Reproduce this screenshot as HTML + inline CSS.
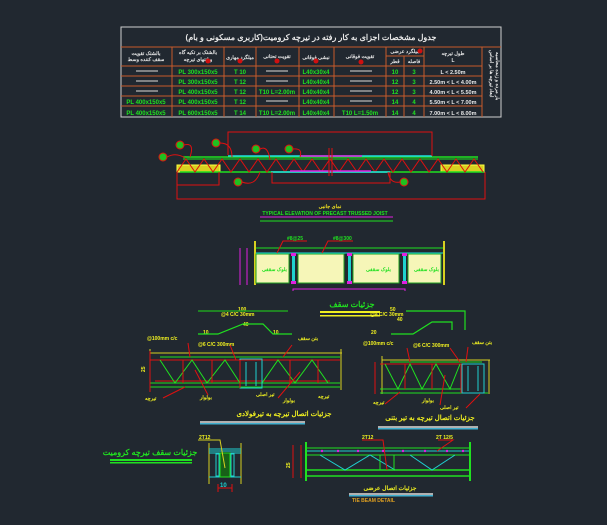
<!DOCTYPE html>
<html><head><meta charset="utf-8"><style>
html,body{margin:0;padding:0;background:#212830;width:607px;height:525px;overflow:hidden}
svg{display:block}
text{font-family:"Liberation Sans","Noto Sans CJK SC",sans-serif;font-weight:bold}
</style></head><body>
<svg width="607" height="525" viewBox="0 0 607 525" xmlns="http://www.w3.org/2000/svg">
<!-- TABLE -->
<g stroke="#c85a2a" stroke-width="1" fill="none">
<rect x="121" y="27" width="380" height="90" stroke="#d0d0d0"/>
<line x1="121" y1="47" x2="501" y2="47"/>
<line x1="121" y1="66" x2="482" y2="66"/>
<line x1="121" y1="76" x2="482" y2="76"/><line x1="121" y1="86" x2="482" y2="86"/>
<line x1="121" y1="96" x2="482" y2="96"/><line x1="121" y1="106" x2="482" y2="106"/>
<line x1="172" y1="47" x2="172" y2="117"/><line x1="224" y1="47" x2="224" y2="117"/>
<line x1="256" y1="47" x2="256" y2="117"/><line x1="299" y1="47" x2="299" y2="117"/>
<line x1="334" y1="47" x2="334" y2="117"/><line x1="386" y1="47" x2="386" y2="117"/>
<line x1="404" y1="56" x2="404" y2="117"/><line x1="386" y1="56" x2="424" y2="56"/>
<line x1="424" y1="47" x2="424" y2="117"/><line x1="482" y1="47" x2="482" y2="117"/>
</g>
<text x="311" y="40" font-size="8" fill="#e8e8e8" text-anchor="middle">جدول مشخصات اجزای به کار رفته در تیرچه کرومیت(کاربری مسکونی و بام)</text>
<g font-size="5" fill="#e8e8e8" text-anchor="middle">
<text x="146" y="55">بالشتک تقویت</text><text x="146" y="61">سقف کننده وسط</text>
<text x="198" y="54">بالشتک بر تکیه گاه</text><text x="198" y="61">و انتهای تیرچه</text>
<text x="240" y="59">میلگرد مهاری</text><text x="277" y="58">تقویت تحتانی</text>
<text x="316" y="59">نبشی فوقانی</text><text x="360" y="58">تقویت فوقانی</text>
<text x="405" y="53">میلگرد عرضی</text><text x="395" y="63">قطر</text><text x="414" y="63">فاصله</text>
<text x="453" y="55">طول تیرچه</text><text x="453" y="62">L</text>
</g>
<g fill="#d01010"><circle cx="208" cy="61" r="2.5"/><circle cx="240" cy="61" r="2.5"/><circle cx="277" cy="61" r="2.5"/><circle cx="316" cy="61" r="2.5"/><circle cx="361" cy="62" r="2.5"/><circle cx="420" cy="51" r="2.5"/></g>
<g font-size="6" fill="#20e020" text-anchor="middle">
<text x="198" y="74">PL 300x150x5</text><text x="198" y="84">PL 300x150x5</text><text x="198" y="94">PL 400x150x5</text><text x="198" y="104">PL 400x150x5</text><text x="198" y="115">PL 600x150x5</text>
<text x="146" y="104">PL 400x150x5</text><text x="146" y="115">PL 400x150x5</text>
<text x="240" y="74">T 10</text><text x="240" y="84">T 12</text><text x="240" y="94">T 12</text><text x="240" y="104">T 12</text><text x="240" y="115">T 14</text>
<text x="277" y="94">T10 L=2.00m</text><text x="277" y="115">T10 L=2.00m</text><text x="360" y="115">T10 L=1.50m</text>
<text x="316" y="74">L40x30x4</text><text x="316" y="84">L40x40x4</text><text x="316" y="94">L40x40x4</text><text x="316" y="104">L40x40x4</text><text x="316" y="115">L40x40x4</text>
<text x="395" y="74">10</text><text x="395" y="84">12</text><text x="395" y="94">12</text><text x="395" y="104">14</text><text x="395" y="115">14</text>
<text x="414" y="74">3</text><text x="414" y="84">3</text><text x="414" y="94">3</text><text x="414" y="104">4</text><text x="414" y="115">4</text>
</g>
<g font-size="5.5" fill="#e8e8e8" text-anchor="middle">
<text x="453" y="74">L &lt; 2.50m</text><text x="453" y="84">2.50m &lt; L &lt; 4.00m</text><text x="453" y="94">4.00m &lt; L &lt; 5.50m</text><text x="453" y="104">5.50m &lt; L &lt; 7.00m</text><text x="453" y="115">7.00m &lt; L &lt; 8.00m</text>
</g>
<g stroke="#a0a0a0" stroke-width="1.5">
<line x1="136" y1="71" x2="158" y2="71"/><line x1="136" y1="81" x2="158" y2="81"/><line x1="136" y1="91" x2="158" y2="91"/>
<line x1="266" y1="71" x2="288" y2="71"/><line x1="266" y1="81" x2="288" y2="81"/><line x1="266" y1="101" x2="288" y2="101"/>
<line x1="350" y1="71" x2="372" y2="71"/><line x1="350" y1="81" x2="372" y2="81"/><line x1="350" y1="91" x2="372" y2="91"/><line x1="350" y1="101" x2="372" y2="101"/>
</g>
<text x="0" y="0" font-size="5" fill="#e8e8e8" transform="translate(490,50) rotate(90)">ابعاد تیرچه ها بر اساس</text>
<text x="0" y="0" font-size="5" fill="#e8e8e8" transform="translate(496,52) rotate(90)">بار مرده و زنده محاسبه</text>

<!-- ELEVATION -->
<g fill="none" stroke-width="1">
<rect x="177" y="165" width="43" height="7" fill="#d8d020" stroke="#ffff40"/>
<rect x="441" y="165" width="43" height="7" fill="#d8d020" stroke="#ffff40"/>
<line x1="183" y1="157" x2="478" y2="157" stroke="#20e020" stroke-width="1.5"/>
<line x1="183" y1="159" x2="478" y2="159" stroke="#20e020"/>
<line x1="180" y1="172" x2="484" y2="172" stroke="#20e020" stroke-width="1.5"/>
<polyline stroke="#e01010" points="177,172 186,159 195,172 204,159 213,172 222,159 231,172 240,159 249,172 258,159 267,172 276,159 285,172 294,159 303,172 312,159 321,172 330,159 339,172 348,159 357,172 366,159 375,172 384,159 393,172 402,159 411,172 420,159 429,172 438,159 447,172 456,159 465,172 474,159 483,172"/>
<line x1="228" y1="156" x2="432" y2="156" stroke="#20e0e0" stroke-width="1.5"/>
<line x1="300" y1="156" x2="362" y2="156" stroke="#e020e0" stroke-width="1.5"/>
<line x1="271" y1="172" x2="390" y2="172" stroke="#20e0e0" stroke-width="1.5"/>
<line x1="290" y1="171" x2="371" y2="171" stroke="#e020e0" stroke-width="1.5"/>
<line x1="329" y1="148" x2="329" y2="176" stroke="#e01010"/><line x1="332" y1="148" x2="332" y2="176" stroke="#e01010"/>
<g stroke="#e01010">
<polyline points="228,155 228,132 432,132 432,156"/>
<polyline points="177,172 177,199 485,199 485,172"/>
<polyline points="177,185 219,185 219,172"/>
<polyline points="272,172 272,183 390,183 390,172"/>
<path d="M167,157 Q176,152 185,158 M184,145 Q195,142 190,157 M220,143 Q232,143 232,157 M260,149 Q268,145 270,160 M293,149 Q303,148 300,157 M242,182 Q255,187 260,172 M400,182 Q390,184 388,172"/>
</g>
<g stroke="#e01010" fill="#20c020"><circle cx="163" cy="157" r="4"/><circle cx="180" cy="145" r="4"/><circle cx="216" cy="143" r="4"/><circle cx="256" cy="149" r="4"/><circle cx="289" cy="149" r="4"/><circle cx="238" cy="182" r="4"/><circle cx="404" cy="182" r="4"/></g>
</g>
<text x="330" y="208" font-size="5" fill="#f0e020" text-anchor="middle">نمای جانبی</text>
<text x="325" y="215" font-size="5" fill="#20e020" text-anchor="middle">TYPICAL ELEVATION OF PRECAST TRUSSED JOIST</text>
<line x1="260" y1="217" x2="393" y2="217" stroke="#e020e0"/><line x1="260" y1="221" x2="393" y2="221" stroke="#20e020"/>

<!-- SECTION -->
<g stroke-width="1">
<line x1="255" y1="241" x2="255" y2="285" stroke="#d8d020" stroke-width="2"/>
<line x1="444" y1="241" x2="444" y2="285" stroke="#d8d020" stroke-width="2"/>
<line x1="256" y1="248" x2="443" y2="248" stroke="#20e020"/>
<line x1="256" y1="253" x2="443" y2="253" stroke="#20e0e0"/>
<g fill="#f6f6b8" stroke="#20a020"><rect x="256" y="254" width="33" height="29"/><rect x="298" y="254" width="46" height="29"/><rect x="353" y="254" width="46" height="29"/><rect x="408" y="254" width="33" height="29"/></g>
<g fill="#20d0d0"><rect x="292" y="254" width="3" height="29"/><rect x="348" y="254" width="3" height="29"/><rect x="403" y="254" width="3" height="29"/></g>
<g fill="#e020e0"><rect x="291" y="253" width="5" height="3"/><rect x="347" y="253" width="5" height="3"/><rect x="402" y="253" width="5" height="3"/><rect x="291" y="281" width="5" height="3"/><rect x="347" y="281" width="5" height="3"/><rect x="402" y="281" width="5" height="3"/></g>
<polyline points="293,291 293,289 405,289 405,291" fill="none" stroke="#e020e0"/>
<line x1="240" y1="248" x2="240" y2="285" stroke="#e020e0"/><line x1="247" y1="248" x2="247" y2="285" stroke="#e020e0"/>
<polyline points="277,253 283,241 307,241" fill="none" stroke="#e01010"/>
<polyline points="322,253 328,241 353,241" fill="none" stroke="#e01010"/>
</g>
<g font-size="5" fill="#20e020"><text x="287" y="240">#8@25</text><text x="333" y="240">#8@300</text>
<text x="262" y="271">بلوک سقفی</text><text x="308" y="271"></text><text x="366" y="271">بلوک سقفی</text><text x="414" y="271">بلوک سقفی</text></g>
<text x="352" y="307" font-size="8" fill="#20e020" text-anchor="middle">جزئیات سقف</text>
<rect x="320" y="311" width="60" height="2" fill="#f0f020"/><rect x="320" y="315" width="60" height="1.5" fill="#f0f020"/>

<!-- DETAIL 1 -->
<g font-size="5" fill="#f0f020">
<text x="238" y="311">100</text><text x="221" y="316">@4 C/C 30mm</text><text x="243" y="326">40</text><text x="203" y="334">10</text><text x="273" y="334">10</text>
<text x="147" y="340">@100mm c/c</text><text x="198" y="346">@6 C/C 300mm</text><text x="298" y="340">بتن سقف</text>
<text x="145" y="400">تیرچه</text><text x="200" y="399">بولوار</text><text x="256" y="396">تیر اصلی</text><text x="283" y="402">بولوار</text><text x="318" y="398">تیرچه</text>
<text x="390" y="311">50</text><text x="370" y="316">@4 C/C 30mm</text><text x="397" y="321">40</text><text x="371" y="334">20</text>
<text x="363" y="345">@100mm c/c</text><text x="413" y="347">@6 C/C 300mm</text><text x="472" y="344">بتن سقف</text>
<text x="373" y="404">تیرچه</text><text x="422" y="402">بولوار</text><text x="440" y="409">تیر اصلی</text>
</g>
<line x1="198" y1="311" x2="288" y2="311" stroke="#20a020" stroke-width="1.5"/>
<polyline points="198,334 218,334 243,324 263,324 273,334 292,334" fill="none" stroke="#20e020" stroke-width="1.2"/>
<polyline points="406,311 465,311 465,330" fill="none" stroke="#20e020" stroke-width="1.2"/>
<polyline points="391,334 413,334 432,322 452,322 452,330" fill="none" stroke="#20e020" stroke-width="1.2"/>
<g stroke-width="1" fill="none">
<line x1="150" y1="353" x2="342" y2="353" stroke="#d8d020"/><line x1="150" y1="349" x2="150" y2="390" stroke="#d8d020"/><line x1="341" y1="349" x2="341" y2="390" stroke="#d8d020"/>
<line x1="160" y1="357" x2="340" y2="357" stroke="#20e020"/><line x1="150" y1="360" x2="340" y2="360" stroke="#e01010"/>
<line x1="150" y1="383" x2="340" y2="383" stroke="#20e020"/><line x1="150" y1="387" x2="340" y2="387" stroke="#20e020"/><line x1="155" y1="381" x2="330" y2="381" stroke="#e01010"/>
<polyline points="160,360 175,383 192,360 207,383 225,360 240,383" stroke="#20e020"/>
<polyline points="262,383 278,360 295,383 312,360 328,383" stroke="#20e020"/>
<line x1="183" y1="360" x2="183" y2="383" stroke="#e01010"/><line x1="212" y1="360" x2="212" y2="383" stroke="#e01010"/><line x1="290" y1="360" x2="290" y2="383" stroke="#e01010"/><line x1="318" y1="360" x2="318" y2="383" stroke="#e01010"/>
<rect x="240" y="359" width="22" height="29" stroke="#20d0d0"/><line x1="246" y1="362" x2="246" y2="386" stroke="#20d0d0"/><line x1="256" y1="362" x2="256" y2="386" stroke="#20d0d0"/>
<line x1="240" y1="360" x2="240" y2="388" stroke="#e01010"/>
<line x1="150" y1="351" x2="150" y2="392" stroke="#e01010"/>
<line x1="188" y1="343" x2="190" y2="357" stroke="#e01010"/><line x1="230" y1="345" x2="236" y2="360" stroke="#e01010"/><line x1="292" y1="345" x2="283" y2="357" stroke="#e01010"/>
<line x1="163" y1="398" x2="185" y2="387" stroke="#e01010"/><line x1="208" y1="395" x2="195" y2="370" stroke="#e01010"/><line x1="278" y1="398" x2="300" y2="372" stroke="#e01010"/>
</g>
<text x="145" y="372" font-size="5" fill="#f0f020" transform="rotate(-90 145 372)">25</text>
<text x="284" y="416" font-size="7" fill="#f0f020" text-anchor="middle">جزئیات اتصال تیرچه به تیرفولادی</text>
<rect x="200" y="421" width="105" height="2" fill="#b0b0b0"/><rect x="200" y="423" width="105" height="1.5" fill="#40b0d0"/>

<!-- DETAIL 2 -->
<g stroke-width="1" fill="none">
<line x1="382" y1="356" x2="382" y2="394" stroke="#d8d020"/><line x1="382" y1="360" x2="490" y2="360" stroke="#d8d020"/><line x1="489" y1="360" x2="489" y2="394" stroke="#d8d020"/>
<line x1="390" y1="362" x2="482" y2="362" stroke="#20e020"/><line x1="380" y1="364" x2="462" y2="364" stroke="#e01010"/>
<line x1="380" y1="389" x2="462" y2="389" stroke="#20e020"/><line x1="380" y1="393" x2="488" y2="393" stroke="#20e020"/>
<polyline points="385,364 398,389 410,364 422,389 436,364 450,389 460,364" stroke="#20e020"/>
<line x1="405" y1="364" x2="405" y2="389" stroke="#e01010"/><line x1="432" y1="364" x2="432" y2="389" stroke="#e01010"/>
<rect x="462" y="364" width="22" height="29" stroke="#20d0d0"/><line x1="468" y1="366" x2="468" y2="391" stroke="#20d0d0"/><line x1="478" y1="366" x2="478" y2="391" stroke="#20d0d0"/>
<line x1="461" y1="364" x2="461" y2="393" stroke="#e01010"/>
<line x1="375" y1="362" x2="375" y2="394" stroke="#e01010"/>
<line x1="407" y1="348" x2="410" y2="362" stroke="#e01010"/><line x1="450" y1="348" x2="460" y2="362" stroke="#e01010"/><line x1="468" y1="347" x2="466" y2="362" stroke="#e01010"/>
<line x1="385" y1="404" x2="400" y2="392" stroke="#e01010"/><line x1="440" y1="405" x2="445" y2="375" stroke="#e01010"/><line x1="466" y1="408" x2="480" y2="394" stroke="#e01010"/>
</g>
<text x="430" y="420" font-size="7" fill="#f0f020" text-anchor="middle">جزئیات اتصال تیرچه به تیر بتنی</text>
<rect x="378" y="426" width="100" height="2" fill="#b0b0b0"/><rect x="378" y="428" width="100" height="1.5" fill="#40b0d0"/>

<!-- BOTTOM -->
<text x="150" y="455" font-size="8" fill="#20e020" text-anchor="middle">جزئیات سقف تیرچه کرومیت</text>
<rect x="110" y="459" width="82" height="2" fill="#20e020"/><rect x="110" y="462" width="82" height="1.5" fill="#20e020"/>
<g stroke-width="1" fill="none">
<line x1="209" y1="443" x2="209" y2="484" stroke="#d8d020"/><line x1="241" y1="443" x2="241" y2="484" stroke="#d8d020"/>
<line x1="209" y1="449" x2="241" y2="449" stroke="#20d0d0"/><line x1="209" y1="451" x2="241" y2="451" stroke="#20d0d0"/><line x1="209" y1="453" x2="241" y2="453" stroke="#20d0d0"/>
<rect x="216" y="454" width="3" height="22" stroke="#20d0d0"/><rect x="231" y="454" width="3" height="22" stroke="#20d0d0"/>
<line x1="209" y1="477" x2="241" y2="477" stroke="#20d0d0"/>
<rect x="220" y="453" width="10" height="24" fill="#186018" stroke="#20e020"/>
<polyline points="198,440 220,440 225,468" stroke="#d8d020"/>
<line x1="218" y1="488" x2="232" y2="488" stroke="#e01010"/><line x1="218" y1="484" x2="218" y2="492" stroke="#e01010"/><line x1="232" y1="484" x2="232" y2="492" stroke="#e01010"/>
</g>
<text x="199" y="439" font-size="5" fill="#f0f020">2T12</text>
<text x="220" y="487" font-size="6" fill="#20d0d0">10</text>
<g stroke-width="1" fill="none">
<line x1="306" y1="442" x2="306" y2="481" stroke="#20e020" stroke-width="2"/><line x1="470" y1="442" x2="470" y2="481" stroke="#20e020" stroke-width="2"/>
<line x1="307" y1="448" x2="469" y2="448" stroke="#20e020"/><line x1="307" y1="451" x2="469" y2="451" stroke="#20d0d0"/>
<line x1="307" y1="455" x2="469" y2="455" stroke="#20e020"/><line x1="307" y1="470" x2="469" y2="470" stroke="#20e020" stroke-width="1.5"/><line x1="307" y1="476" x2="469" y2="476" stroke="#20e020" stroke-width="1.5"/>
<polyline points="320,455 345,470 370,455 395,470" stroke="#20d0d0"/><polyline points="410,455 432,470 455,455" stroke="#20d0d0"/>
<rect x="380" y="455" width="14" height="15" stroke="#20e020"/>
<polyline points="362,440 383,440 387,470" stroke="#e01010"/>
<polyline points="438,440 453,440 437,451 M445,440 447,451" stroke="#e01010"/>
<line x1="293" y1="445" x2="293" y2="478" stroke="#e01010"/><line x1="301" y1="445" x2="301" y2="478" stroke="#e01010"/>
</g>
<g fill="#e020e0"><circle cx="322" cy="451" r="1.2"/><circle cx="338" cy="451" r="1.2"/><circle cx="358" cy="451" r="1.2"/><circle cx="383" cy="451" r="1.2"/><circle cx="403" cy="451" r="1.2"/><circle cx="425" cy="451" r="1.2"/><circle cx="447" cy="451" r="1.2"/><circle cx="463" cy="451" r="1.2"/></g>
<g font-size="5" fill="#f0f020"><text x="362" y="439">2T12</text><text x="436" y="439">2T 12/5</text>
<text x="290" y="468" transform="rotate(-90 290 468)">25</text></g>
<text x="390" y="490" font-size="6" fill="#f0f020" text-anchor="middle">جزئیات اتصال عرضی</text>
<rect x="349" y="493" width="84" height="2" fill="#b0b0b0"/><rect x="349" y="495" width="84" height="1.5" fill="#40b0d0"/>
<text x="352" y="502" font-size="5" fill="#e0a020">TIE BEAM DETAIL</text>
</svg>
</body></html>
